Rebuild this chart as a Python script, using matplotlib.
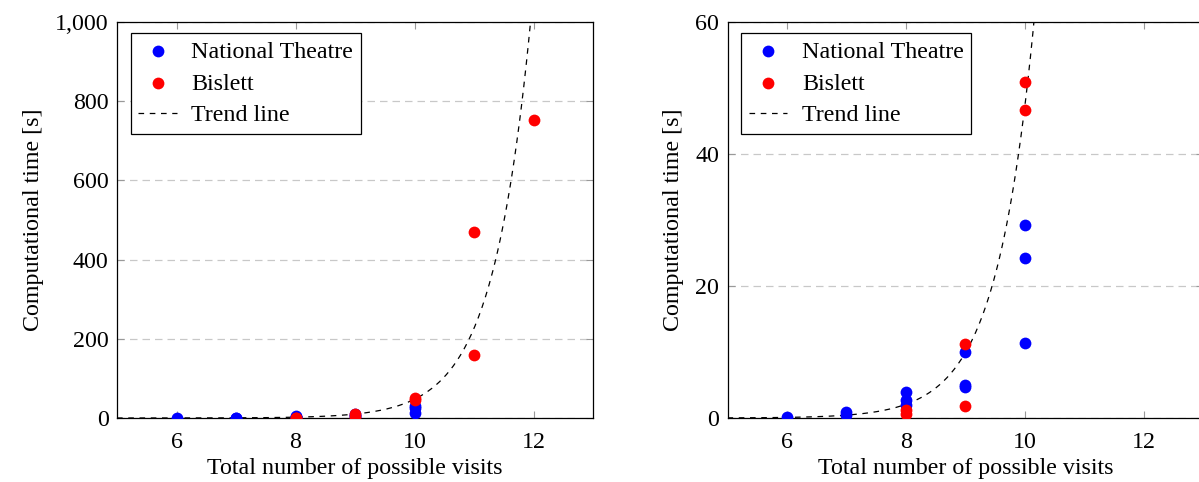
import numpy as np
import matplotlib
matplotlib.use("Agg")
import matplotlib.pyplot as plt
from matplotlib.ticker import FuncFormatter

plt.rcParams['font.family'] = ['Liberation Serif', 'DejaVu Serif']
plt.rcParams['mathtext.fontset'] = 'stix'

# measured computational times [s] per total number of possible visits
nt_visits = [6, 7, 7, 8, 8, 8, 9, 9, 9, 10, 10, 10]
nt_times = [0.1, 0.5, 0.9, 2.0, 2.8, 3.9, 4.7, 5.0, 10.0, 11.4, 24.3, 29.2]
bislett_visits = [8, 8, 9, 9, 10, 10, 11, 11, 12]
bislett_times = [0.6, 1.2, 1.8, 11.2, 46.6, 50.9, 159, 469, 752]

# exponential trend line  t = a * exp(b * n)
trend_a = 7.73e-6
trend_b = 1.563

x_ticks = [6, 8, 10, 12]
left_y_ticks = [0, 200, 400, 600, 800, 1000]
right_y_ticks = [0, 20, 40, 60]

FS = 17.3

fig = plt.figure(figsize=(11.99, 4.82), dpi=100)
ax1 = fig.add_axes([117 / 1199, 1 - 418 / 482, 476 / 1199, 396 / 482])
ax2 = fig.add_axes([727.5 / 1199, 1 - 418 / 482, 476 / 1199, 396 / 482])

trend_x = np.linspace(5, 13, 400)
trend_y = trend_a * np.exp(trend_b * trend_x)


def draw(ax, yticks, ymax):
    ax.scatter(nt_visits, nt_times, s=72, color='#0000ff', label='National Theatre',
               zorder=3, linewidths=0)
    ax.scatter(bislett_visits, bislett_times, s=72, color='#ff0000', label='Bislett',
               zorder=4, linewidths=0)
    ax.plot(trend_x, trend_y, color='black', lw=0.9, dashes=(4.5, 4.5), label='Trend line',
            zorder=2)
    ax.set_xlim(5, 13)
    ax.set_ylim(0, ymax)
    ax.set_xticks(x_ticks)
    ax.set_yticks(yticks)
    ax.yaxis.set_major_formatter(FuncFormatter(lambda v, p: '{:,.0f}'.format(v)))
    ax.grid(axis='y', color='#c8c8c8', lw=0.9, dashes=(6, 4))
    ax.set_axisbelow(True)
    ax.tick_params(direction='in', length=5, width=0.8, color='#999999',
                   top=True, right=True, labelsize=FS, pad=6)
    ax.tick_params(axis='x', pad=10)
    for sp in ax.spines.values():
        sp.set_linewidth(0.9)
    ax.set_xlabel('Total number of possible visits', fontsize=FS, labelpad=4)
    ax.set_ylabel('Computational time [s]', fontsize=FS, labelpad=8)
    leg = ax.legend(loc='upper left', bbox_to_anchor=(0.029, 0.972), fontsize=FS,
                    frameon=True, fancybox=False, edgecolor='black', framealpha=1,
                    borderpad=0.32, labelspacing=0.42, handlelength=1.6,
                    handletextpad=0.6, borderaxespad=0)
    leg.get_frame().set_linewidth(0.9)


draw(ax1, left_y_ticks, 1000)
draw(ax2, right_y_ticks, 60)

fig.savefig('out.png', dpi=100)
